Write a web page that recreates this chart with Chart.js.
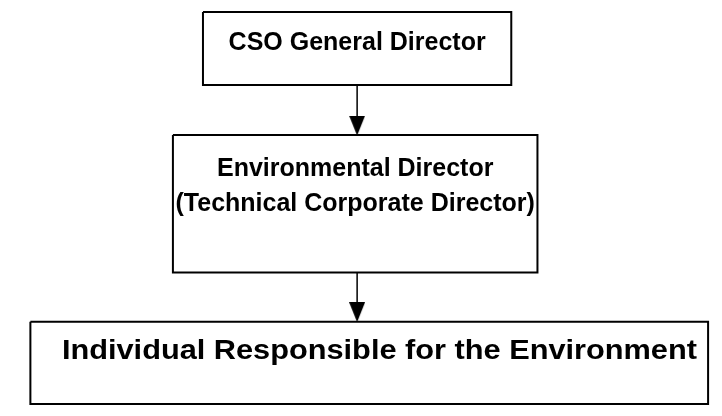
<!DOCTYPE html>
<html>
<head>
<meta charset="utf-8">
<script src="https://cdn.jsdelivr.net/npm/chart.js@4.4.1/dist/chart.umd.min.js"></script>
<style>
  html, body { margin: 0; padding: 0; background: #fff; }
  #wrap { width: 722px; height: 416px; }
</style>
</head>
<body>
<div id="wrap"><canvas id="c" width="722" height="416"></canvas></div>
<script>
// El noeuds mta3 l'organigramme, mel fou9 lel louta
const nodeLabels = [
  ['CSO General Director'],
  ['Environmental Director', '(Technical Corporate Director)'],
  ['Individual Responsible for the Environment']
];
// chkoun yrapporti l chkoun (index mta3 el parent)
const parentOf = [null, 0, 1];

// --- layout (unités mta3 el scale, 0..722 x 0..416) ---
const boxLeft   = [198, 167, 20];
const boxRight  = [516, 543, 719];
const boxTop    = [1, 131, 328];
const boxBottom = [78, 276, 415];
const textY     = [34, 167, 359];   // centre mta3 awel star
const textCx    = [357, 355, 380];
const textW     = [null, null, 655]; // ken fama 3ordh mfrodh, n9ass/ntawel el ktiba
const fontSize  = [25, 25, 28];
const lineGap   = 37;
const arrowX    = 357;
const headW = 16, headH = 20;

// ras el flèche: triangle mersoum fi canvas sghir
function makeHead() {
  const cv = document.createElement('canvas');
  cv.width = headW; cv.height = headH;
  const g = cv.getContext('2d');
  g.fillStyle = '#000';
  g.beginPath();
  g.moveTo(0, 0);
  g.lineTo(headW, 0);
  g.lineTo(headW / 2, headH);
  g.closePath();
  g.fill();
  return cv;
}
const head = makeHead();

const datasets = [];

// el boxes
nodeLabels.forEach((lbl, i) => {
  const l = boxLeft[i], r = boxRight[i], t = boxTop[i], b = boxBottom[i];
  datasets.push({
    label: lbl.join(' '),
    data: [{x: l, y: t}, {x: r, y: t}, {x: r, y: b}, {x: l, y: b}, {x: l, y: t}],
    showLine: true,
    borderColor: '#000',
    borderWidth: 2,
    borderJoinStyle: 'miter',
    pointRadius: 0,
    fill: false,
    clip: false
  });
});

// el flèches parent -> enfant
parentOf.forEach((p, i) => {
  if (p === null) return;
  const y0 = boxBottom[p], tip = boxTop[i];
  datasets.push({
    label: 'link' + i,
    data: [{x: arrowX, y: y0}, {x: arrowX, y: tip - headH + 2}],
    showLine: true,
    borderColor: '#000',
    borderWidth: 1.5,
    pointRadius: 0,
    clip: false
  });
  datasets.push({
    label: 'head' + i,
    data: [{x: arrowX, y: tip - headH / 2}],
    showLine: false,
    pointStyle: head,
    pointRadius: 10,
    clip: false
  });
});

// el ktiba west el boxes
const labelsPlugin = {
  id: 'boxLabels',
  afterDatasetsDraw(chart) {
    const {ctx, scales: {x, y}} = chart;
    ctx.save();
    ctx.fillStyle = '#000';
    ctx.textAlign = 'center';
    ctx.textBaseline = 'middle';
    nodeLabels.forEach((lines, i) => {
      ctx.font = 'bold ' + fontSize[i] + 'px "Liberation Sans", Arial, sans-serif';
      const cx = x.getPixelForValue(textCx[i]);
      lines.forEach((s, k) => {
        const cy = y.getPixelForValue(textY[i] + k * lineGap);
        if (textW[i]) {
          const want = x.getPixelForValue(textW[i]) - x.getPixelForValue(0);
          const sx = want / ctx.measureText(s).width;
          ctx.save();
          ctx.translate(cx, cy);
          ctx.scale(sx, 1);
          ctx.fillText(s, 0, 0);
          ctx.restore();
        } else {
          ctx.fillText(s, cx, cy);
        }
      });
    });
    ctx.restore();
  }
};

new Chart(document.getElementById('c'), {
  type: 'scatter',
  data: { datasets },
  options: {
    responsive: false,
    animation: false,
    layout: { padding: 0 },
    scales: {
      x: { type: 'linear', min: 0, max: 722, display: false },
      y: { type: 'linear', min: 0, max: 416, reverse: true, display: false }
    },
    plugins: { legend: { display: false }, tooltip: { enabled: false } }
  },
  plugins: [labelsPlugin]
});
</script>
</body>
</html>
